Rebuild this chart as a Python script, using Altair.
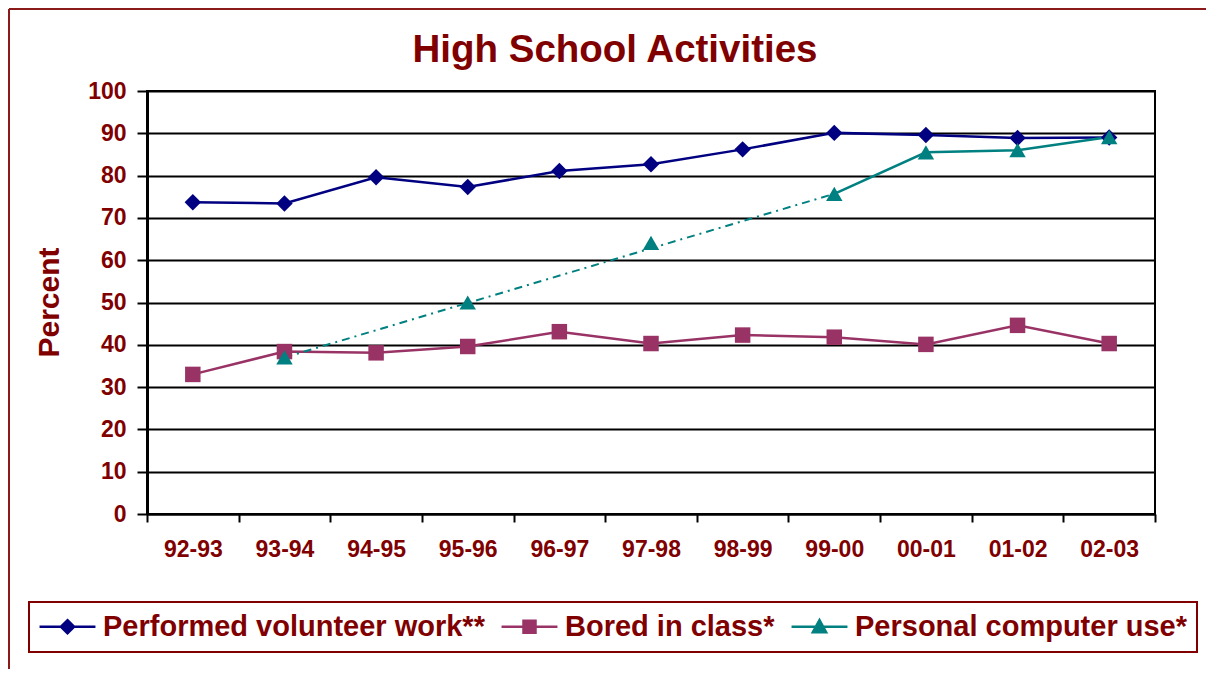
import altair as alt
import pandas as pd

years = ["92-93", "93-94", "94-95", "95-96", "96-97", "97-98",
         "98-99", "99-00", "00-01", "01-02", "02-03"]
series = ["Performed volunteer work**", "Bored in class*", "Personal computer use*"]
colors = ["#000080", "#993366", "#008080"]

volunteer = [73.7, 73.4, 79.6, 77.3, 81.1, 82.7, 86.2, 90.1, 89.6, 88.9, 89.0]
bored = [33.0, 38.4, 38.1, 39.6, 43.1, 40.3, 42.3, 41.8, 40.1, 44.6, 40.3]
computer = [None, 37.0, None, 50.0, None, 64.1, None, 75.7, 85.5, 86.0, 89.1]
# computer use: dash-dot trend between these surveyed years, solid from 99-00 on
computer_dash_idx = [1, 7]
computer_solid_from = 7

TEXT = "#800000"
FONT = "Liberation Sans"

rows = []
for name, vals in zip(series, [volunteer, bored, computer]):
    for i, (yr, v) in enumerate(zip(years, vals)):
        if v is None:
            continue
        is_pc = name == series[2]
        rows.append({
            "series": name, "year": yr, "idx": i, "value": v,
            "solid": (not is_pc) or i >= computer_solid_from,
            "dash": is_pc and i in computer_dash_idx,
        })
df = pd.DataFrame(rows)

x_enc = alt.X(
    "year:N", sort=years,
    scale=alt.Scale(domain=years, paddingInner=0, paddingOuter=0),
    axis=alt.Axis(title=None, labelAngle=0, labelFontSize=23, labelFont=FONT,
                  labelFontWeight="bold", labelColor=TEXT, labelPadding=16,
                  tickBand="extent", tickSize=8, tickColor="black", tickWidth=2,
                  domainColor="black", domainWidth=2, grid=False),
)
y_enc = alt.Y(
    "value:Q",
    scale=alt.Scale(domain=[0, 100], nice=False),
    axis=alt.Axis(values=list(range(0, 101, 10)), title="Percent",
                  titleFontSize=30, titleFont=FONT, titleFontWeight="bold",
                  titleColor=TEXT, titleX=-98, titleY=211, titleAngle=270,
                  titleBaseline="middle", titleAlign="center",
                  labelFontSize=23, labelFont=FONT, labelFontWeight="bold",
                  labelColor=TEXT, labelPadding=11,
                  tickSize=10, tickColor="black", tickWidth=2,
                  domainColor="black", domainWidth=3,
                  grid=True, gridColor="black", gridWidth=2, gridOpacity=1),
)

base = alt.Chart(df)
shapes = ["diamond", "square", "triangle-up"]
sizes = [270, 240, 270]

layers = []
for name, col in zip(series, colors):
    layers.append(
        base.transform_filter(alt.datum.series == name)
        .transform_filter("datum.solid")
        .mark_line(color=col, strokeWidth=2.5)
        .encode(x=x_enc, y=y_enc)
    )
    layers.append(
        base.transform_filter(alt.datum.series == name)
        .transform_filter("datum.dash")
        .mark_line(color=col, strokeWidth=2, strokeDash=[8, 5, 2, 5])
        .encode(x=x_enc, y=y_enc)
    )
for name, col, shp, sz in zip(series, colors, shapes, sizes):
    layers.append(
        base.transform_filter(alt.datum.series == name)
        .mark_point(shape=shp, size=sz, filled=True, color=col, opacity=1)
        .encode(x=x_enc, y=y_enc)
    )

# legend symbols: line through marker
legend_paths = [
    "M-2.33,0H2.33M0,-0.55L0.55,0L0,0.55L-0.55,0Z",
    "M-2.33,0H2.33M-0.5,-0.5H0.5V0.5H-0.5Z",
    "M-2.33,0H2.33M-0.55,0.45L0,-0.55L0.55,0.45Z",
]
leg = alt.Legend(
    title=None, orient="none", legendX=-118, legendY=511, direction="horizontal",
    labelFont=FONT, labelFontSize=29, labelFontWeight="bold", labelColor=TEXT,
    symbolSize=576, symbolStrokeWidth=2.5, symbolOffset=14, labelOffset=21,
    columnPadding=11, padding=10, strokeColor=TEXT, fillColor="white",
    labelLimit=600,
)
legend_layer = (
    base.transform_filter("false")
    .mark_point(filled=True, opacity=1)
    .encode(
        x=x_enc, y=y_enc,
        fill=alt.Fill("series:N", scale=alt.Scale(domain=series, range=colors), legend=leg),
        stroke=alt.Stroke("series:N", scale=alt.Scale(domain=series, range=colors), legend=leg),
        shape=alt.Shape("series:N", scale=alt.Scale(domain=series, range=legend_paths), legend=leg),
    )
)
layers.append(legend_layer)

# outer frame of the chart (decoration)
frame_left = alt.Chart(df).mark_rule(color="#8B1A1A", strokeWidth=2).encode(
    x=alt.value(-138), y=alt.value(-82), y2=alt.value(578))
frame_top = alt.Chart(df).mark_rule(color="#8B1A1A", strokeWidth=2).encode(
    x=alt.value(-138), x2=alt.value(1060), y=alt.value(-82))

chart = (
    alt.layer(*layers, frame_left, frame_top)
    .properties(
        width=1008, height=423,
        autosize=alt.AutoSizeParams(type="none"),
        padding={"left": 139, "top": 83, "right": 51, "bottom": 155},
        title=alt.TitleParams("High School Activities", fontSize=38.5, font=FONT,
                              fontWeight="bold", color=TEXT, anchor="middle",
                              frame="group", baseline="alphabetic",
                              offset=0, dx=-36, dy=92),
    )
    .configure_view(stroke="black", strokeWidth=2)
    .configure_legend(strokeWidth=2)
)

chart.save("out.html", embed_options={"renderer": "svg", "actions": False})
